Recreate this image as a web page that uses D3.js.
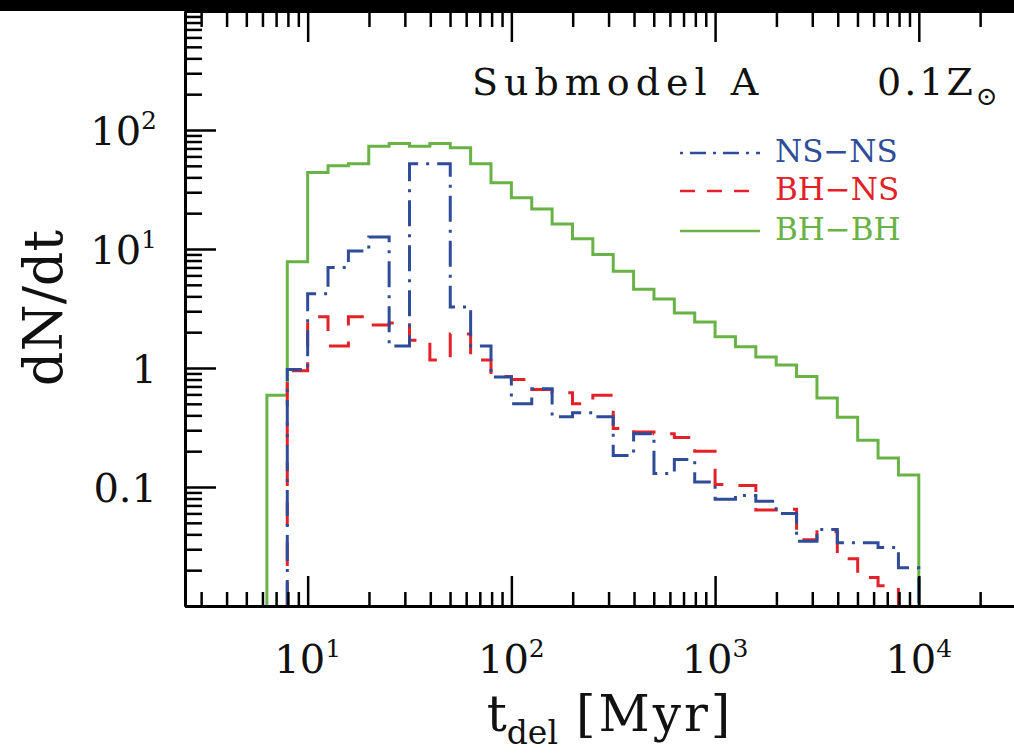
<!DOCTYPE html>
<html>
<head>
<meta charset="utf-8">
<script src="https://cdn.jsdelivr.net/npm/d3@7"></script>
<style>
body { margin: 0; background: #fff; }
svg { display: block; font-family: "DejaVu Serif", serif; }
</style>
</head>
<body>
<div id="main"></div>
<script>

// bin edges, log10(t_del / Myr)
var binEdges = [0.8, 0.9, 1.0, 1.1, 1.2, 1.3, 1.4, 1.5, 1.6, 1.7, 1.8, 1.9, 2.0, 2.1, 2.2, 2.3, 2.4,
	2.5, 2.6, 2.7, 2.8, 2.9, 3.0, 3.1, 3.2, 3.3, 3.4, 3.5, 3.6, 3.7, 3.8, 3.9, 4.0];

// dN/dt per bin (null = empty bin)
var bhbh = [0.59, 7.8, 44, 50, 52, 73, 77, 73, 77, 71, 52, 36, 27, 21.7, 16.2, 12.2, 9.0,
	6.5, 4.6, 3.8, 2.9, 2.44, 1.83, 1.51, 1.24, 1.06, 0.85, 0.56, 0.386, 0.247, 0.175, 0.126];
var nsns = [null, 0.97, 4.2, 7.0, 9.6, 12.6, 1.53, 52, 52, 3.26, 1.53, 0.84, 0.50, 0.67, 0.39, 0.42, 0.39,
	0.184, 0.28, 0.13, 0.17, 0.11, 0.079, 0.085, 0.076, 0.06, 0.035, 0.044, 0.034, 0.034, 0.031, 0.021];
var bhns = [null, 0.95, 2.69, 1.53, 2.69, 2.3, 2.39, 1.71, 1.17, 1.93, 1.17, 0.85, 0.80, 0.66, 0.62, 0.50, 0.59,
	0.31, 0.29, 0.28, 0.26, 0.20, 0.105, 0.103, 0.064, 0.065, 0.036, 0.042, 0.025, 0.0174, 0.0148, null];

var seriesNames = ["NS\u2212NS", "BH\u2212NS", "BH\u2212BH"];
var seriesColors = ["#2e4c9a", "#e32129", "#69b246"];
var seriesDash = ["26,8,3,8", "24,16", null];
var legendDash = ["3,7,16,7", "15,12", null];

// tick labels
var xMajor = [10, 100, 1000, 10000];
var xTickBase = ["10", "10", "10", "10"];
var xTickSup = ["1", "2", "3", "4"];
var yMajor = [0.1, 1, 10, 100];
var yTickBase = ["0.1", "1", "10", "10"];
var yTickSup = ["", "", "1", "2"];

//Width and height
var w = 1014,
	h = 755;

var pLeft = 185, pRight = 1016, pTop = 11, pBottom = 606;

var x = d3.scaleLog().domain([2.5, 30000]).range([pLeft, pRight]);
var y = d3.scaleLog().domain([0.01, 1000]).range([pBottom, pTop]);

var svg = d3.select("#main")
	.append("svg")
	.attr("width", w)
	.attr("height", h);

// black band along the top
svg.append("rect")
	.attr("x", 0).attr("y", 0)
	.attr("width", w).attr("height", pTop)
	.attr("fill", "#000");

// histogram steps
function isMajor(v) {
	var l = Math.log10(v);
	return Math.abs(l - Math.round(l)) < 1e-9;
}

function stepPoints(vals) {
	var pts = [];
	var first = -1, last = -1;
	vals.forEach(function(v, i) {
		if (v != null) {
			if (first < 0) first = i;
			last = i;
		}
	});
	var floor = y.domain()[0];
	pts.push([binEdges[first], floor]);
	for (var i = first; i <= last; i++) {
		pts.push([binEdges[i], vals[i]]);
	}
	pts.push([binEdges[last + 1], vals[last]]);
	pts.push([binEdges[last + 1], floor]);
	return pts;
}

var line = d3.line()
	.x(function(d) { return x(Math.pow(10, d[0])); })
	.y(function(d) { return y(d[1]); })
	.curve(d3.curveStepAfter);

var series = [nsns, bhns, bhbh];
[2, 1, 0].forEach(function(k) {
	svg.append("path")
		.attr("d", line(stepPoints(series[k])))
		.attr("fill", "none")
		.attr("stroke", seriesColors[k])
		.attr("stroke-width", 3)
		.attr("stroke-dasharray", seriesDash[k]);
});

// axes
var xMinor = x.ticks().filter(function(v) { return !isMajor(v); });
var xMaj = x.ticks().filter(isMajor);
var yMinor = y.ticks().filter(function(v) { return !isMajor(v); });
var yMaj = y.ticks().filter(isMajor);

function styleAxis(g) {
	g.select(".domain").attr("stroke", "#000").attr("stroke-width", 3);
	g.selectAll(".tick line").attr("stroke", "#000").attr("stroke-width", 2.5);
}

svg.append("g").attr("transform", "translate(0," + pBottom + ")")
	.call(d3.axisBottom(x).tickValues(xMinor).tickSizeInner(-14).tickSizeOuter(0).tickFormat(""))
	.call(styleAxis);
svg.append("g").attr("transform", "translate(0," + pBottom + ")")
	.call(d3.axisBottom(x).tickValues(xMaj).tickSizeInner(-30).tickSizeOuter(0).tickFormat(""))
	.call(styleAxis);
svg.append("g").attr("transform", "translate(0," + pTop + ")")
	.call(d3.axisTop(x).tickValues(xMinor).tickSizeInner(-16).tickSizeOuter(0).tickFormat(""))
	.call(styleAxis);
svg.append("g").attr("transform", "translate(0," + pTop + ")")
	.call(d3.axisTop(x).tickValues(xMaj).tickSizeInner(-31).tickSizeOuter(0).tickFormat(""))
	.call(styleAxis);
svg.append("g").attr("transform", "translate(" + pLeft + ",0)")
	.call(d3.axisLeft(y).tickValues(yMinor).tickSizeInner(-17).tickSizeOuter(0).tickFormat(""))
	.call(styleAxis);
svg.append("g").attr("transform", "translate(" + pLeft + ",0)")
	.call(d3.axisLeft(y).tickValues(yMaj).tickSizeInner(-31).tickSizeOuter(0).tickFormat(""))
	.call(styleAxis);

// x tick labels
xMajor.forEach(function(v, i) {
	var t = svg.append("text")
		.attr("x", x(v))
		.attr("y", 673)
		.attr("text-anchor", "middle")
		.attr("font-size", 40)
		.attr("fill", "#111");
	t.append("tspan").text(xTickBase[i]);
	t.append("tspan").attr("font-size", 25).attr("dy", -16).text(xTickSup[i]);
});

// y tick labels
yMajor.forEach(function(v, i) {
	var t = svg.append("text")
		.attr("x", 157)
		.attr("y", y(v) + 15)
		.attr("text-anchor", "end")
		.attr("font-size", 40)
		.attr("fill", "#111");
	t.append("tspan").text(yTickBase[i]);
	if (yTickSup[i]) t.append("tspan").attr("font-size", 25).attr("dy", -16).text(yTickSup[i]);
});

// axis titles
var xt = svg.append("text")
	.attr("x", 610)
	.attr("y", 731)
	.attr("text-anchor", "middle")
	.attr("font-size", 50)
	.attr("fill", "#111");
xt.append("tspan").text("t");
xt.append("tspan").attr("font-size", 33).attr("dy", 13).text("del");
xt.append("tspan").attr("dy", -13).attr("dx", 18).attr("letter-spacing", 3).text("[Myr]");

svg.append("text")
	.attr("transform", "translate(62,308) rotate(-90)")
	.attr("text-anchor", "middle")
	.attr("font-size", 54)
	.attr("fill", "#111")
	.text("dN/dt");

// title
svg.append("text")
	.attr("x", 472).attr("y", 95)
	.attr("font-size", 38)
	.attr("letter-spacing", 6)
	.attr("fill", "#111")
	.text("Submodel A");

var zt = svg.append("text")
	.attr("x", 877).attr("y", 95)
	.attr("font-size", 38)
	.attr("letter-spacing", 3)
	.attr("fill", "#111");
zt.append("tspan").text("0.1Z");
zt.append("tspan").attr("font-size", 26).attr("dy", 10).text("\u2299");

// legend
var legendY = [153, 191, 231];
seriesNames.forEach(function(name, i) {
	svg.append("line")
		.attr("x1", 680).attr("x2", 760)
		.attr("y1", legendY[i]).attr("y2", legendY[i])
		.attr("stroke", seriesColors[i])
		.attr("stroke-width", 2.5)
		.attr("stroke-dasharray", legendDash[i]);
	svg.append("text")
		.attr("x", 775).attr("y", legendY[i] + 9)
		.attr("font-size", 31)
		.attr("fill", seriesColors[i])
		.text(name);
});

</script>
</body>
</html>
